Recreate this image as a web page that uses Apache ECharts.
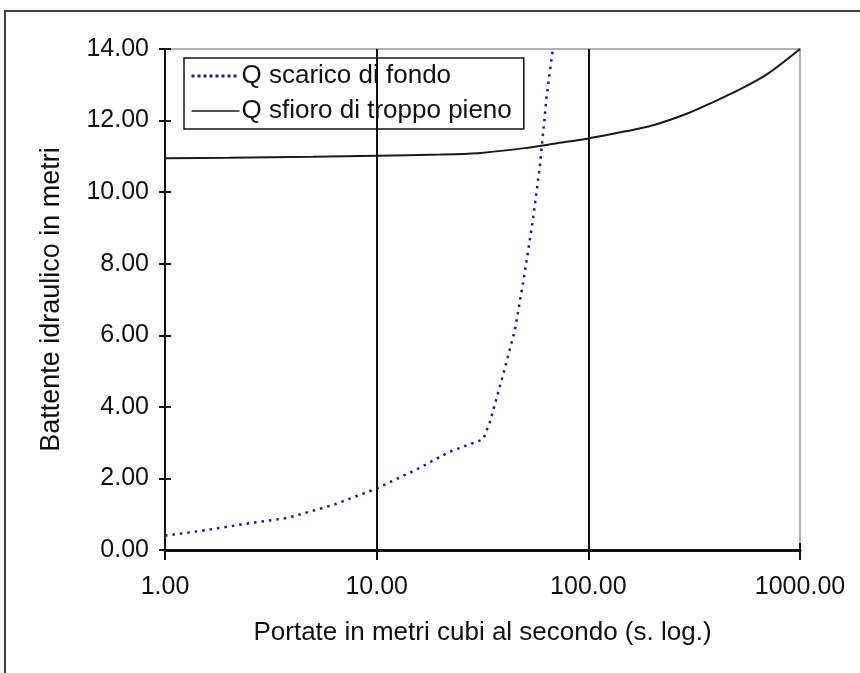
<!DOCTYPE html>
<html>
<head>
<meta charset="utf-8">
<script src="https://cdn.jsdelivr.net/npm/echarts@6/dist/echarts.min.js"></script>
<style>
  html, body { margin: 0; padding: 0; background: #fff; }
  #chart { width: 860px; height: 673px; }
</style>
</head>
<body>
<div id="chart"></div>
<script>
// Scala delle portate (m³/s) e dei battenti (m)
const xTicks = [1, 10, 100, 1000];
const yTicks = [0, 2, 4, 6, 8, 10, 12, 14];

// Q scarico di fondo
const scaricoQ = [1, 1.46, 2.52, 3.82, 6.24, 10, 15.2, 22.2, 31.8, 34.3, 39.9, 45, 49.6, 54.7, 59, 63.5, 68];
const scaricoH = [0.40, 0.53, 0.75, 0.90, 1.26, 1.72, 2.23, 2.75, 3.09, 3.58, 4.98, 6.15, 7.60, 9.22, 10.71, 12.66, 14.00];

// Q sfioro di troppo pieno
const sfioroQ = [1, 2, 5, 10, 20, 30, 50, 70, 100, 150, 200, 300, 400, 500, 700, 1000];
const sfioroH = [10.95, 10.96, 10.99, 11.02, 11.05, 11.09, 11.23, 11.36, 11.50, 11.70, 11.86, 12.22, 12.55, 12.82, 13.30, 14.00];

// Linee verticali di riferimento sulle decadi interne
const decadi = [10, 100];

const nomi = ['Q scarico di fondo', 'Q sfioro di troppo pieno'];
const font = 'Liberation Sans, Arial, sans-serif';

const zip = (a, b) => a.map((v, i) => [v, b[i]]);
const fmt = v => Number(v).toFixed(2);

const chart = echarts.init(document.getElementById('chart'), null, { renderer: 'canvas' });

chart.setOption({
  animation: false,
  backgroundColor: '#fff',
  textStyle: { fontFamily: font },
  graphic: [
    { type: 'line', shape: { x1: 4, y1: 11, x2: 860, y2: 11 }, style: { stroke: '#444', lineWidth: 2 } },
    { type: 'line', shape: { x1: 5, y1: 11, x2: 5, y2: 673 }, style: { stroke: '#444', lineWidth: 2 } }
  ],
  grid: {
    left: 165, right: 60, top: 49, bottom: 123,
    show: true, borderColor: '#9a9a9a', borderWidth: 1.5, backgroundColor: 'transparent'
  },
  legend: {
    orient: 'vertical',
    left: 184, top: 58,
    padding: [5, 12, 5, 6],
    itemGap: 9,
    itemWidth: 48, itemHeight: 14,
    borderColor: '#111', borderWidth: 1.5,
    backgroundColor: '#fff',
    textStyle: { fontFamily: font, fontSize: 26, color: '#111', padding: [0, 0, 0, -3] },
    data: [
      { name: nomi[0], itemStyle: { opacity: 0 }, lineStyle: { width: 3, type: [3, 3], color: '#1c1c8a' } },
      { name: nomi[1], itemStyle: { opacity: 0 }, lineStyle: { width: 1.5, color: '#1a1a1a' } }
    ]
  },
  xAxis: [
    {
      type: 'log', logBase: 10, min: 1, max: 1000,
      name: 'Portate in metri cubi al secondo (s. log.)',
      nameLocation: 'middle', nameGap: 70,
      nameTextStyle: { fontFamily: font, fontSize: 26, color: '#111' },
      axisLine: { lineStyle: { color: '#111', width: 3 } },
      axisTick: { show: true, inside: false, length: 10, lineStyle: { color: '#111', width: 2 } },
      axisLabel: { fontFamily: font, fontSize: 25, color: '#111', margin: 25, formatter: fmt },
      splitLine: { show: false },
      minorTick: { show: false }
    },
    {
      type: 'log', logBase: 10, min: 1, max: 1000, position: 'bottom',
      axisLine: { show: false },
      axisTick: { show: true, inside: true, length: 7, lineStyle: { color: '#111', width: 2 } },
      axisLabel: { show: false },
      splitLine: { show: false }
    }
  ],
  yAxis: [
    {
      type: 'value', min: 0, max: 14, interval: 2,
      name: 'Battente idraulico in metri',
      nameLocation: 'middle', nameGap: 100, nameRotate: 90,
      nameTextStyle: { fontFamily: font, fontSize: 27, color: '#111' },
      axisLine: { show: true, lineStyle: { color: '#111', width: 2 } },
      axisTick: { show: true, inside: false, length: 6, lineStyle: { color: '#111', width: 2 } },
      axisLabel: { fontFamily: font, fontSize: 25, color: '#111', margin: 16, formatter: fmt },
      splitLine: { show: false }
    },
    {
      type: 'value', min: 0, max: 14, interval: 2, position: 'left',
      axisLine: { show: false },
      axisTick: { show: true, inside: true, length: 6, lineStyle: { color: '#111', width: 2 } },
      axisLabel: { show: false },
      splitLine: { show: false }
    }
  ],
  series: [
    {
      name: 'griglia',
      type: 'line',
      data: [],
      silent: true,
      markLine: {
        silent: true,
        symbol: 'none',
        label: { show: false },
        lineStyle: { color: '#111', width: 2, type: 'solid' },
        data: decadi.map(v => ({ xAxis: v }))
      }
    },
    {
      name: nomi[1],
      type: 'line',
      data: zip(sfioroQ, sfioroH),
      symbol: 'none',
      smooth: 0.3,
      lineStyle: { color: '#1a1a1a', width: 2 },
      itemStyle: { color: '#1a1a1a' },
      z: 3
    },
    {
      name: nomi[0],
      type: 'line',
      data: zip(scaricoQ, scaricoH),
      symbol: 'none',
      lineStyle: { color: '#1c1c8a', width: 2.5, type: [2.5, 5] },
      itemStyle: { color: '#1c1c8a' },
      z: 4
    }
  ]
});
</script>
</body>
</html>
